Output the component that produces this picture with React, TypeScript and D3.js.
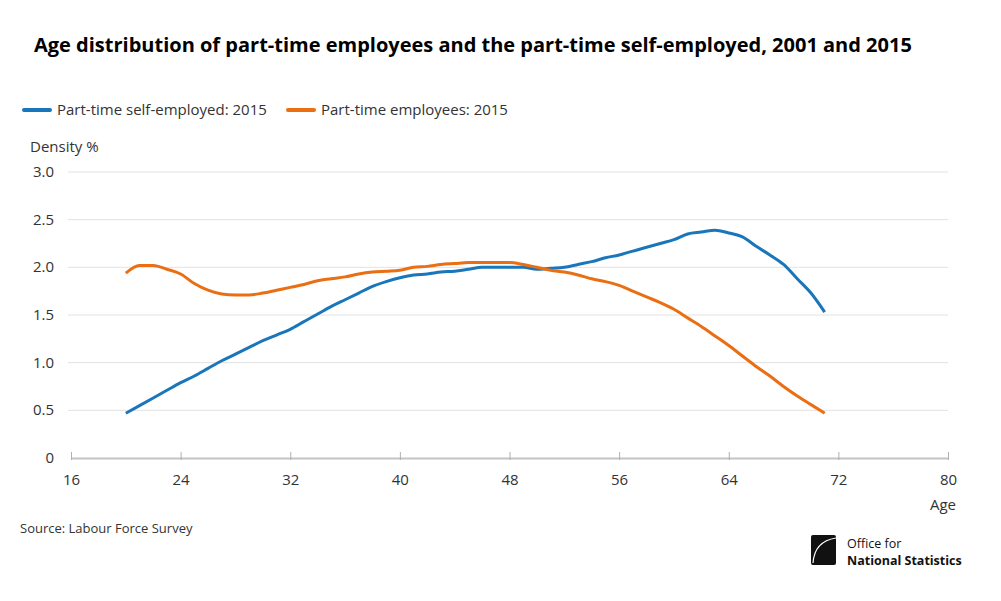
import * as d3 from "d3";
import React, { useEffect, useRef } from "react";

const ages = [
  20, 21, 22, 23, 24, 25, 26, 27, 28, 29, 30, 31, 32, 33, 34, 35, 36, 37, 38, 39,
  40, 41, 42, 43, 44, 45, 46, 47, 48, 49, 50, 51, 52, 53, 54, 55, 56, 57, 58, 59,
  60, 61, 62, 63, 64, 65, 66, 67, 68, 69, 70, 71,
];

// part-time self-employed, 2015
const selfEmployed = [
  0.47, 0.55, 0.63, 0.71, 0.79, 0.86, 0.94, 1.02, 1.09, 1.16, 1.23, 1.29, 1.35,
  1.43, 1.51, 1.59, 1.66, 1.73, 1.8, 1.85, 1.89, 1.92, 1.93, 1.95, 1.96, 1.98,
  2.0, 2.0, 2.0, 2.0, 1.98, 1.99, 2.0, 2.03, 2.06, 2.1, 2.13, 2.17, 2.21, 2.25,
  2.29, 2.35, 2.37, 2.39, 2.36, 2.32, 2.22, 2.13, 2.03, 1.88, 1.73, 1.53,
];

// part-time employees, 2015
const employees = [
  1.94, 2.02, 2.02, 1.98, 1.93, 1.83, 1.76, 1.72, 1.71, 1.71, 1.73, 1.76, 1.79,
  1.82, 1.86, 1.88, 1.9, 1.93, 1.95, 1.96, 1.97, 2.0, 2.01, 2.03, 2.04, 2.05,
  2.05, 2.05, 2.05, 2.03, 2.0, 1.97, 1.95, 1.92, 1.88, 1.85, 1.81, 1.75, 1.69,
  1.63, 1.56, 1.47, 1.38, 1.28, 1.18, 1.07, 0.96, 0.86, 0.75, 0.65, 0.56, 0.47,
];

const seriesNames = ["Part-time self-employed: 2015", "Part-time employees: 2015"];
const seriesColors = ["#1a76bb", "#ea6e12"];
const xTicks = [16, 24, 32, 40, 48, 56, 64, 72, 80];
const yTicks = [0, 0.5, 1, 1.5, 2, 2.5, 3];

const W = 1001;
const H = 601;
const FONT = "'Open Sans', sans-serif";

export default function App() {
  const svgRef = useRef<SVGSVGElement | null>(null);

  useEffect(() => {
    const svg = d3.select(svgRef.current);
    svg.selectAll("*").remove();

    const x = d3.scaleLinear().domain([16, 80]).range([71, 948]);
    const y = d3.scaleLinear().domain([0, 3]).range([458, 172]);

    // title
    svg.append("text")
      .attr("x", 34).attr("y", 52)
      .attr("font-family", FONT).attr("font-size", 20).attr("font-weight", 700)
      .attr("fill", "#000")
      .text("Age distribution of part-time employees and the part-time self-employed, 2001 and 2015");

    // legend
    const legendX = [24, 288];
    seriesNames.forEach((name, i) => {
      const g = svg.append("g").attr("transform", `translate(${legendX[i]},110)`);
      g.append("line").attr("x1", 0).attr("x2", 26).attr("y1", 0).attr("y2", 0)
        .attr("stroke", seriesColors[i]).attr("stroke-width", 4).attr("stroke-linecap", "round");
      g.append("text").attr("x", 33).attr("y", 5)
        .attr("font-family", FONT).attr("font-size", 15).attr("fill", "#333")
        .text(name);
    });

    svg.append("text")
      .attr("x", 30).attr("y", 152)
      .attr("font-family", FONT).attr("font-size", 15).attr("fill", "#333")
      .text("Density %");

    // gridlines + y labels
    const gy = svg.append("g");
    yTicks.forEach((t) => {
      if (t > 0) {
        gy.append("line")
          .attr("x1", 68).attr("x2", 948)
          .attr("y1", y(t)).attr("y2", y(t))
          .attr("stroke", "#e2e2e2").attr("stroke-width", 1);
      }
      gy.append("text")
        .attr("x", 54).attr("y", y(t) + 5)
        .attr("text-anchor", "end")
        .attr("font-family", FONT).attr("font-size", 15).attr("fill", "#333")
        .text(t === 0 ? "0" : d3.format(".1f")(t));
    });

    // x axis
    const gx = svg.append("g").attr("transform", `translate(0,${y(0)})`)
      .call(d3.axisBottom(x).tickValues(xTicks).tickSize(-6).tickPadding(16).tickSizeOuter(0));
    gx.select(".domain").attr("stroke", "#c4c4c4").attr("stroke-width", 2);
    gx.selectAll(".tick line").attr("stroke", "#b0b0b0").attr("y1", 2).attr("y2", -6);
    gx.selectAll(".tick text")
      .attr("font-family", FONT).attr("font-size", 15).attr("fill", "#333")
      .attr("dy", "0.71em").attr("y", 16);

    svg.append("text")
      .attr("x", 956).attr("y", 510)
      .attr("text-anchor", "end")
      .attr("font-family", FONT).attr("font-size", 15).attr("fill", "#333")
      .text("Age");

    // lines
    const line = d3.line<number>()
      .x((_, i) => x(ages[i]))
      .y((d) => y(d))
      .curve(d3.curveMonotoneX);

    [selfEmployed, employees].forEach((vals, i) => {
      svg.append("path")
        .datum(vals)
        .attr("d", line)
        .attr("fill", "none")
        .attr("stroke", seriesColors[i])
        .attr("stroke-width", 3)
        .attr("stroke-linejoin", "round");
    });

    // source
    svg.append("text")
      .attr("x", 20).attr("y", 533)
      .attr("font-family", FONT).attr("font-size", 13).attr("fill", "#333")
      .text("Source: Labour Force Survey");

    // ONS logo
    const logo = svg.append("g").attr("transform", "translate(811,535)");
    logo.append("rect").attr("x", 0).attr("y", 0).attr("width", 25).attr("height", 30)
      .attr("rx", 2).attr("fill", "#111");
    logo.append("path")
      .attr("d", "M25,3 C12,5 3,13 2,28")
      .attr("fill", "none").attr("stroke", "#fff").attr("stroke-width", 1.2);
    logo.append("text").attr("x", 36).attr("y", 13)
      .attr("font-family", FONT).attr("font-size", 12.5).attr("fill", "#111")
      .text("Office for");
    logo.append("text").attr("x", 36).attr("y", 30)
      .attr("font-family", FONT).attr("font-size", 12.5).attr("font-weight", 700).attr("fill", "#111")
      .text("National Statistics");
  }, []);

  return (
    <div style={{ width: W, height: H, background: "#fff" }}>
      <svg ref={svgRef} width={W} height={H} style={{ position: "absolute", left: 0, top: 0 }} />
    </div>
  );
}
